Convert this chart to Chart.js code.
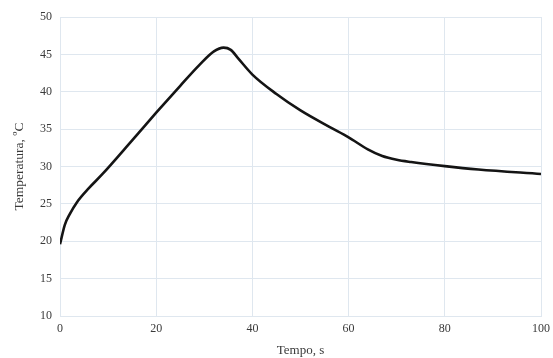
<!DOCTYPE html>
<html>
<head>
<meta charset="utf-8">
<script src="https://cdn.jsdelivr.net/npm/chart.js@4"></script>
<style>
  html, body { margin: 0; padding: 0; background: #fff; }
  #wrap { width: 553px; height: 358px; }
</style>
</head>
<body>
<div id="wrap"><canvas id="c" width="553" height="358"></canvas></div>
<script>
// values
const tempo = [0, 1, 2, 3.5, 6, 8.7, 15, 20, 25, 29, 32, 34, 35.5, 37, 40, 45, 50, 56, 60, 64, 67, 70, 73, 80, 87, 100];
const temperatura = [19.6, 22.2, 23.6, 25.2, 27.1, 28.9, 33.5, 37.2, 40.8, 43.6, 45.4, 45.9, 45.6, 44.5, 42.3, 39.7, 37.5, 35.3, 33.9, 32.3, 31.4, 30.9, 30.6, 30.05, 29.6, 29.0];
const xTitle = 'Tempo, s';
const yTitle = 'Temperatura, ºC';

const serif = '"Liberation Serif", "DejaVu Serif", serif';
const gridCol = '#dfe7ef';
const textCol = '#3a3a3a';

new Chart(document.getElementById('c'), {
  type: 'line',
  data: {
    datasets: [{
      data: tempo.map((t, i) => ({ x: t, y: temperatura[i] })),
      borderColor: '#141414',
      borderWidth: 2.6,
      pointRadius: 0,
      fill: false,
      cubicInterpolationMode: 'monotone'
    }]
  },
  options: {
    responsive: false,
    animation: false,
    layout: { padding: { top: 17, right: 12, left: 0, bottom: 0 } },
    plugins: { legend: { display: false }, tooltip: { enabled: false } },
    scales: {
      x: {
        type: 'linear',
        min: 0, max: 100,
        ticks: { stepSize: 20, padding: 6, color: textCol, font: { family: serif, size: 12 } },
        grid: { color: gridCol, drawTicks: false },
        border: { color: gridCol },
        title: { display: true, text: xTitle, color: textCol, font: { family: serif, size: 13 }, padding: { top: 2, bottom: 0 } },
        afterFit: s => { s.height = 42; s.paddingRight = 0; s.paddingLeft = 0; }
      },
      y: {
        min: 10, max: 50,
        ticks: { stepSize: 5, padding: 8, color: textCol, font: { family: serif, size: 12 } },
        grid: { color: gridCol, drawTicks: false },
        border: { color: gridCol },
        title: { display: true, text: yTitle, color: textCol, font: { family: serif, size: 13.5 }, padding: { top: 11, bottom: 4 } },
        afterFit: s => { s.width = 60; }
      }
    }
  }
});
</script>
</body>
</html>
